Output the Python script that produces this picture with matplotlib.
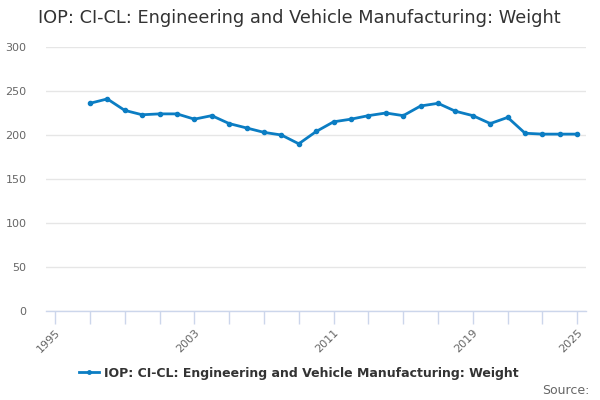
import matplotlib
matplotlib.use("Agg")
import matplotlib.pyplot as plt
from matplotlib.lines import Line2D

years = list(range(1997, 2026))
values = [236, 241, 228, 223, 224, 224, 218, 222, 213, 208, 203, 200, 190,
          204, 215, 218, 222, 225, 222, 233, 236, 227, 222, 213, 220,
          202, 201, 201, 201]
series_name = "IOP: CI-CL: Engineering and Vehicle Manufacturing: Weight"
title = "IOP: CI-CL: Engineering and Vehicle Manufacturing: Weight"
yticks = [0, 50, 100, 150, 200, 250, 300]
xtick_positions = list(range(1995, 2026, 2))
xtick_labeled = [1995, 2003, 2011, 2019, 2025]

line_color = "#0b7dc3"

plt.rcParams['font.family'] = ['DejaVu Sans']
fig = plt.figure(figsize=(6, 4), dpi=100)
ax = fig.add_axes([0.0767, 0.2225, 0.9, 0.66])

ax.plot(years, values, color=line_color, linewidth=2, marker='o',
        markersize=3, zorder=3)

ax.set_xlim(1994.48, 2025.5)
ax.set_ylim(0, 300)
ax.set_yticks(yticks)
ax.set_yticklabels([str(v) for v in yticks], color="#666666", fontsize=8)
ax.grid(axis='y', color="#e6e6e6", linewidth=1)
ax.set_axisbelow(True)

ax.set_xticks(xtick_positions)
ax.set_xticklabels([str(y) if y in xtick_labeled else "" for y in xtick_positions],
                   rotation=45, ha='right', rotation_mode='anchor',
                   color="#666666", fontsize=8)
ax.tick_params(axis='x', length=9, color="#ccd6eb", width=1, pad=3)
ax.tick_params(axis='y', length=0, pad=14)

for s in ['top', 'right', 'left']:
    ax.spines[s].set_visible(False)
ax.spines['bottom'].set_color("#ccd6eb")
ax.spines['bottom'].set_linewidth(1)

fig.text(0.063, 0.955, title, fontsize=12.8, color="#333333", ha='left', va='center')

handle = Line2D([0], [0], color=line_color, linewidth=2, marker='o', markersize=2.5)
fig.legend([handle], [series_name], loc='center', bbox_to_anchor=(0.498, 0.067),
           frameon=False, prop={'size': 9, 'weight': 'bold'}, labelcolor="#333333",
           handlelength=1.6, handletextpad=0.4)

fig.text(0.982, 0.025, "Source:", fontsize=9, color="#666666", ha='right', va='center')

fig.savefig("out.png", dpi=100)
